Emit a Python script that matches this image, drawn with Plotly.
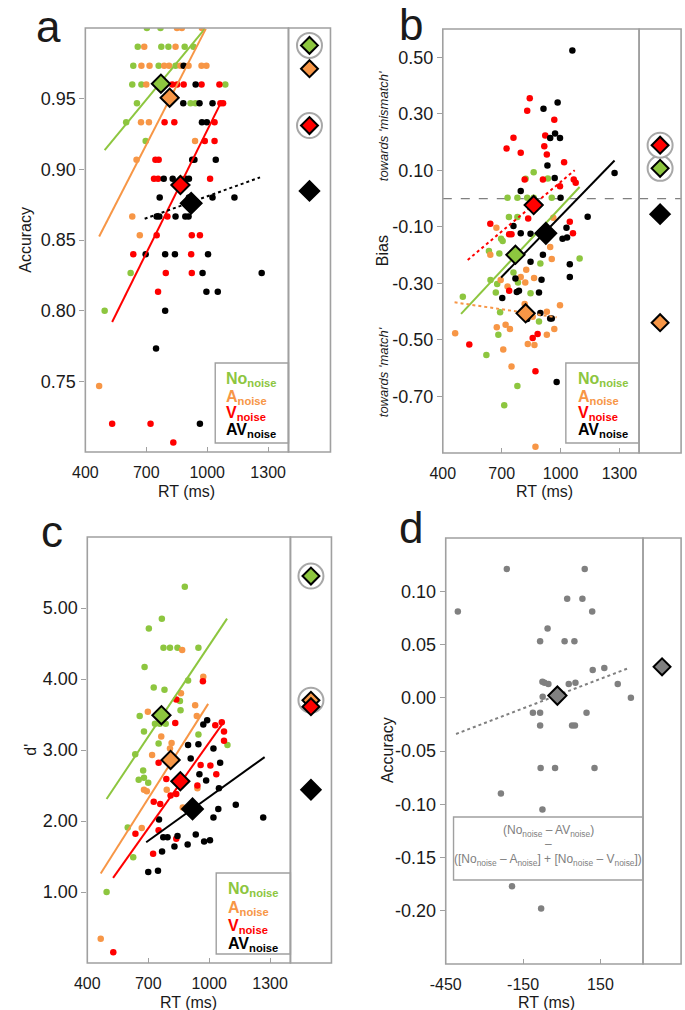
import plotly.graph_objects as go

# ------------------------------------------------------------------ data
cond_names = ["No", "A", "V", "AV"]
cond_colors = ["#8DC63F", "#F79646", "#FF0000", "#000000"]

# ---- panel a : accuracy vs RT
a_no_rt = [703, 770, 658, 774, 809, 889, 932, 636, 761, 844, 631, 676, 1089, 654, 918, 942, 601, 697, 623, 495]
a_no_acc = [1.0, 1.0, 0.9867, 0.9867, 0.9867, 0.9867, 0.9867, 0.9733, 0.9733, 0.9733, 0.96, 0.96, 0.96,
            0.9467, 0.9467, 0.9467, 0.9333, 0.92, 0.8267, 0.80]
a_a_rt = [851, 875, 974, 690, 844, 676, 716, 788, 812, 868, 908, 972, 996, 700, 674, 713, 940, 652, 870, 631, 668, 468]
a_a_acc = [1.0, 1.0, 1.0, 0.9867, 0.9867, 0.9733, 0.9733, 0.9733, 0.9733, 0.9733, 0.9733, 0.9733, 0.9733,
           0.96, 0.9333, 0.9333, 0.92, 0.9067, 0.8933, 0.8667, 0.8533, 0.7467]
a_v_rt = [828, 852, 884, 972, 1060, 1065, 1078, 790, 838, 1036, 988, 1036, 745, 761, 738, 758, 1014, 804,
          751, 924, 964, 636, 921, 796, 924, 758, 532, 721, 833]
a_v_acc = [0.96, 0.96, 0.96, 0.96, 0.96, 0.9467, 0.9467, 0.9333, 0.9333, 0.9333, 0.92, 0.92, 0.9067, 0.9067,
           0.8933, 0.8933, 0.8933, 0.8667, 0.8533, 0.8533, 0.8533, 0.84, 0.84, 0.8267, 0.8267, 0.8133,
           0.72, 0.72, 0.7067]
a_av_rt = [884, 943, 882, 962, 1026, 974, 998, 926, 937, 1042, 786, 830, 894, 910, 766, 1026, 1134, 910,
           751, 764, 844, 892, 908, 697, 793, 841, 1004, 977, 1268, 996, 1052, 793, 748, 964]
a_av_acc = [0.9733, 0.96, 0.9467, 0.9467, 0.9467, 0.9333, 0.9333, 0.9067, 0.9067, 0.9067, 0.8933, 0.8933,
            0.8933, 0.8933, 0.88, 0.88, 0.88, 0.88, 0.8667, 0.8667, 0.8667, 0.8667, 0.8667, 0.84, 0.84,
            0.84, 0.84, 0.8267, 0.8267, 0.8133, 0.8133, 0.80, 0.7733, 0.72]
a_fit_rt = [[495, 988], [468, 993], [532, 1065], [692, 1260]]
a_fit_acc = [[0.9136, 0.9994], [0.8525, 0.9994], [0.792, 0.9465], [0.865, 0.8943]]
a_mean_rt = [772, 815, 868, 921]
a_mean_acc = [0.9606, 0.9507, 0.8889, 0.876]
a_grand_acc = [0.9877, 0.9712, 0.931, 0.8847]
a_yticks = [0.75, 0.80, 0.85, 0.90, 0.95]

# ---- panel b : bias vs RT
b_no_rt = [863, 822, 730, 780, 830, 863, 955, 935, 737, 780, 697, 705, 635, 688, 643, 677, 760, 783, 897,
           1097, 502, 670, 692, 847, 890, 683, 622, 780, 713]
b_no_bias = [0.093, 0.070, 0.003, 0.003, 0.003, 0.003, 0.003, 0.071, -0.065, -0.065, -0.142, -0.150, -0.185,
             -0.194, -0.288, -0.302, -0.261, -0.297, -0.230, -0.212, -0.347, -0.332, -0.402, -0.335, -0.435,
             -0.482, -0.553, -0.663, -0.731]
b_a_rt = [963, 673, 642, 947, 955, 797, 825, 865, 820, 730, 695, 817, 997, 858, 930, 675, 720, 742, 463, 930,
          968, 833, 867, 708, 750, 872]
b_a_bias = [-0.068, -0.103, -0.199, -0.171, -0.214, -0.277, -0.252, -0.281, -0.297, -0.311, -0.288, -0.373,
            -0.377, -0.418, -0.400, -0.455, -0.446, -0.461, -0.476, -0.482, -0.461, -0.514, -0.518, -0.534,
            -0.594, -0.878]
b_v_rt = [843, 830, 760, 725, 797, 968, 922, 917, 930, 1018, 817, 910, 997, 1067, 1077, 642, 738, 750, 835,
          1047, 1063, 738, 858, 883, 535, 872]
b_v_bias = [0.355, 0.311, 0.215, 0.177, 0.162, 0.279, 0.223, 0.185, 0.156, 0.129, 0.068, 0.068, 0.044, 0.068,
            0.056, -0.089, -0.126, -0.126, -0.070, -0.082, -0.123, -0.326, -0.493, -0.479, -0.516, -0.611]
b_av_rt = [1060, 913, 985, 947, 972, 997, 933, 970, 1275, 797, 1000, 760, 797, 847, 922, 1138, 1030, 1010,
           1033, 847, 910, 770, 903, 1047, 1047, 703, 777, 788, 890, 897, 830, 947, 955, 980]
b_av_bias = [0.524, 0.318, 0.340, 0.214, 0.230, 0.214, 0.117, 0.073, 0.091, 0.027, 0.003, -0.097, -0.123,
             -0.124, -0.120, -0.064, -0.103, -0.142, -0.138, -0.223, -0.199, -0.283, -0.287, -0.232, -0.277,
             -0.352, -0.330, -0.326, -0.332, -0.405, -0.426, -0.424, -0.424, -0.649]
b_fit_rt = [[493, 1097], [460, 980], [527, 1072], [697, 1275]]
b_fit_bias = [[-0.408, 0.041], [-0.367, -0.420], [-0.217, 0.1005], [-0.279, 0.135]]
b_mean_rt = [770, 822, 863, 925]
b_mean_bias = [-0.199, -0.406, -0.023, -0.123]
b_grand_bias = [0.107, -0.439, 0.189, -0.055]
b_yticks = [-0.70, -0.50, -0.30, -0.10, 0.10, 0.30, 0.50]

# ---- panel c : d' vs RT
c_no_rt = [880, 767, 703, 775, 807, 844, 947, 682, 896, 727, 780, 658, 856, 859, 679, 733, 757, 786, 751, 636,
           947, 1090, 675, 653, 679, 700, 599, 626, 495]
c_no_d = [5.30, 4.85, 4.71, 4.44, 4.44, 4.44, 4.44, 4.17, 3.98, 3.88, 3.85, 3.48, 3.69, 3.56, 3.26, 3.37, 3.37,
          3.37, 3.09, 2.94, 3.22, 3.07, 2.71, 2.58, 2.61, 2.54, 1.91, 1.49, 1.00]
c_a_rt = [867, 971, 698, 861, 931, 939, 764, 815, 807, 719, 679, 693, 791, 942, 870, 668, 466]
c_a_d = [4.41, 4.03, 3.54, 3.80, 3.63, 3.48, 3.19, 3.10, 3.02, 2.93, 2.44, 2.42, 2.44, 2.46, 2.19, 1.90, 0.34]
c_v_rt = [969, 838, 833, 1030, 1062, 1073, 1073, 751, 789, 958, 1006, 1035, 727, 759, 810, 838, 637, 751, 838,
          724, 528, 942]
c_v_d = [3.97, 3.71, 3.38, 3.35, 3.39, 3.26, 3.13, 2.82, 2.59, 2.79, 2.78, 2.66, 2.27, 2.24, 2.36, 2.38, 1.82,
         1.87, 1.75, 1.54, 0.15, 2.50]
c_av_rt = [990, 971, 896, 947, 1021, 909, 952, 985, 1054, 1048, 1131, 1045, 1021, 1266, 753, 774, 795, 844, 894,
           934, 975, 1004, 829, 768, 700, 748]
c_av_d = [3.42, 3.36, 3.07, 3.08, 3.02, 2.88, 2.66, 2.57, 2.82, 2.46, 2.23, 2.17, 2.05, 2.05, 2.02, 1.77, 1.77,
          1.79, 1.67, 1.81, 1.71, 1.73, 1.64, 1.57, 1.28, 1.30]
c_fit_rt = [[495, 1088], [466, 995], [527, 1073], [690, 1273]]
c_fit_d = [[2.31, 4.85], [1.26, 3.65], [1.20, 3.40], [1.70, 2.90]]
c_mean_rt = [765, 810, 858, 918]
c_mean_d = [3.49, 2.86, 2.56, 2.17]
c_grand_d = [5.45, 3.70, 3.61, 2.44]
c_yticks = [1.0, 2.0, 3.0, 4.0, 5.0]

# ---- panel d : interaction (accuracy difference vs RT difference)
d_rt = [-213, 89, -403, 21, 80, 118, -55, -84, 11, 49, 120, 165, 217, -75, -67, -52, 27, 53, -74, 268,
        -112, -84, 96, -84, 40, 51, -82, -26, 127, -236, -75, -193, -80]
d_acc = [0.121, 0.121, 0.081, 0.093, 0.093, 0.081, 0.065, 0.053, 0.053, 0.053, 0.026, 0.028, 0.013, 0.015,
         0.014, 0.013, 0.013, 0.014, 0.001, 0.000, -0.014, -0.014, -0.014, -0.026, -0.026, -0.026, -0.066,
         -0.066, -0.066, -0.090, -0.105, -0.177, -0.198]
d_fit_rt = [-410, 261]
d_fit_acc = [-0.034, 0.028]
d_mean_rt = [-17]
d_mean_acc = [0.002]
d_grand_acc = [0.029]
d_yticks = [-0.20, -0.15, -0.10, -0.05, 0.0, 0.05, 0.10]

rt_ticks = [400, 700, 1000, 1300]
d_rt_ticks = [-450, -150, 150]

# ------------------------------------------------------------------ drawing
W, H = 685, 1010
FONT = "Liberation Sans, Arial, sans-serif"
FRAME = "#A0A0A0"
GREY = "#808080"


def PX(p):
    return p / W


def PY(p):
    return 1 - p / H


def sfx(n):
    return "" if n == 1 else str(n)


fig = go.Figure()


def add_panel(i, pts, fit_x, fit_y, dashes, mean_x, mean_y, grand_y, rings, colors):
    xm, xs, yy = "x" + sfx(2 * i + 1), "x" + sfx(2 * i + 2), "y" + sfx(i + 1)
    for (xv, yv), c in zip(pts, colors):
        fig.add_trace(go.Scatter(x=xv, y=yv, mode="markers", marker=dict(size=6.5, color=c),
                                 xaxis=xm, yaxis=yy, hoverinfo="skip"))
    for fx, fy, dsh, c in zip(fit_x, fit_y, dashes, colors):
        fig.add_trace(go.Scatter(x=fx, y=fy, mode="lines", line=dict(color=c, width=2, dash=dsh),
                                 xaxis=xm, yaxis=yy, hoverinfo="skip"))
    for k, c in enumerate(colors):
        black = (c == "#000000")
        fig.add_trace(go.Scatter(x=[mean_x[k]], y=[mean_y[k]], mode="markers",
                                 marker=dict(symbol="diamond", size=16 if black else 14, color=c,
                                             line=dict(color="black", width=2)),
                                 xaxis=xm, yaxis=yy, hoverinfo="skip"))
    for k, c in enumerate(colors):
        if rings[k]:
            fig.add_trace(go.Scatter(x=[0.5], y=[grand_y[k]], mode="markers",
                                     marker=dict(symbol="circle", size=25, color="white",
                                                 line=dict(color="#A8A8A8", width=2)),
                                     xaxis=xs, yaxis=yy, hoverinfo="skip"))
    for k, c in enumerate(colors):
        black = (c == "#000000")
        fig.add_trace(go.Scatter(x=[0.5], y=[grand_y[k]], mode="markers",
                                 marker=dict(symbol="diamond", size=15 if black else 13, color=c,
                                             line=dict(color="black", width=2)),
                                 xaxis=xs, yaxis=yy, hoverinfo="skip"))


add_panel(0, [(a_no_rt, a_no_acc), (a_a_rt, a_a_acc), (a_v_rt, a_v_acc), (a_av_rt, a_av_acc)],
          a_fit_rt, a_fit_acc, ["solid", "solid", "solid", "dot"], a_mean_rt, a_mean_acc, a_grand_acc,
          [True, False, True, False], cond_colors)
add_panel(1, [(b_no_rt, b_no_bias), (b_a_rt, b_a_bias), (b_v_rt, b_v_bias), (b_av_rt, b_av_bias)],
          b_fit_rt, b_fit_bias, ["solid", "dot", "dot", "solid"], b_mean_rt, b_mean_bias, b_grand_bias,
          [True, False, True, False], cond_colors)
add_panel(2, [(c_no_rt, c_no_d), (c_a_rt, c_a_d), (c_v_rt, c_v_d), (c_av_rt, c_av_d)],
          c_fit_rt, c_fit_d, ["solid"] * 4, c_mean_rt, c_mean_d, c_grand_d,
          [True, True, False, False], cond_colors)
add_panel(3, [(d_rt, d_acc)], [d_fit_rt], [d_fit_acc], ["dot"], d_mean_rt, d_mean_acc, d_grand_acc,
          [False], [GREY])

# panel geometry (pixels): main x, side x, y
geom = [
    ((71, 279), (279, 322), (28, 452)),
    ((437, 638), (638, 681), (29, 453)),
    ((73, 281), (281, 323), (537, 963)),
    ((440, 642), (642, 681), (538, 964)),
]
yranges = [[0.70, 1.00], [-0.90, 0.60], [0.0, 6.0], [-0.25, 0.15]]
xranges = [[400, 1400], [400, 1400], [400, 1400], [-450, 315]]
yticks = [a_yticks, b_yticks, c_yticks, d_yticks]
xticks = [rt_ticks, rt_ticks, rt_ticks, d_rt_ticks]

layout = dict(width=W, height=H, margin=dict(l=0, r=0, t=0, b=0), paper_bgcolor="white",
              plot_bgcolor="white", showlegend=False, font=dict(family=FONT, color="#1a1a1a"))
shapes = []
for i, ((mx0, mx1), (sx0, sx1), (y0, y1)) in enumerate(geom):
    xm, xs, yy = "xaxis" + sfx(2 * i + 1), "xaxis" + sfx(2 * i + 2), "yaxis" + sfx(i + 1)
    ya = "y" + sfx(i + 1)
    layout[xm] = dict(domain=[PX(mx0), PX(mx1)], anchor=ya, range=xranges[i], tickvals=xticks[i],
                      ticktext=[str(v) for v in xticks[i]], ticks="inside", ticklen=5, tickcolor=FRAME,
                      ticklabelstandoff=9, showgrid=False, zeroline=False, showline=False,
                      tickfont=dict(size=16, family=FONT, color="#1a1a1a"))
    layout[xs] = dict(domain=[PX(sx0), PX(sx1)], anchor=ya, range=[0, 1], showticklabels=False,
                      ticks="", showgrid=False, zeroline=False, showline=False)
    layout[yy] = dict(domain=[PY(y1), PY(y0)], anchor="x" + sfx(2 * i + 1), range=yranges[i],
                      tickvals=yticks[i], ticktext=[f"{v:.2f}" for v in yticks[i]], ticks="outside",
                      ticklen=5, tickcolor=FRAME, showgrid=False, zeroline=False, showline=False,
                      tickfont=dict(size=18, family=FONT, color="#1a1a1a"))
    for xr in ("x" + sfx(2 * i + 1), "x" + sfx(2 * i + 2)):
        shapes.append(dict(type="rect", xref=xr + " domain", yref=ya + " domain", x0=0, x1=1, y0=0, y1=1,
                           line=dict(color=FRAME, width=1.6), layer="above"))

# zero reference line in panel b (main and side)
for xr in ("x3", "x4"):
    shapes.append(dict(type="line", xref=xr + " domain", yref="y2", x0=0, x1=1, y0=0, y1=0,
                       line=dict(color=GREY, width=1.3, dash="dash"), layer="below"))

# legend boxes
legend_boxes = [(204, 279, 363, 443), (563, 638, 363, 443), (205, 281, 873, 954)]
for (x0, x1, y0, y1) in legend_boxes:
    shapes.append(dict(type="rect", xref="paper", yref="paper", x0=PX(x0), x1=PX(x1), y0=PY(y1), y1=PY(y0),
                       line=dict(color=FRAME, width=1.4)))
shapes.append(dict(type="rect", xref="paper", yref="paper", x0=PX(448), x1=PX(642), y0=PY(880), y1=PY(817),
                   line=dict(color=FRAME, width=1.4)))
layout["shapes"] = shapes

ann = []


def add_text(x, y, text, size, color="#1a1a1a", angle=0, xanchor="center", yanchor="middle"):
    ann.append(dict(x=PX(x), y=PY(y), xref="paper", yref="paper", text=text, showarrow=False,
                    font=dict(size=size, color=color, family=FONT), textangle=angle,
                    xanchor=xanchor, yanchor=yanchor))


# panel letters
add_text(33, 26, "a", 44)
add_text(404, 24, "b", 44)
add_text(37, 531, "c", 44)
add_text(404, 527, "d", 44)

# axis titles
add_text(175, 491, "RT (ms)", 16)
add_text(541, 491, "RT (ms)", 16)
add_text(177, 1002, "RT (ms)", 16)
add_text(543, 1002, "RT (ms)", 16)
add_text(9, 240, "Accuracy", 16, angle=-90)
add_text(375, 251, "Bias", 16, angle=-90)
add_text(376, 126, "<i>towards 'mismatch'</i>", 13, angle=-90)
add_text(376, 372, "<i>towards 'match'</i>", 13, angle=-90)
add_text(14, 750, "d'", 16, angle=-90)
add_text(380, 750, "Accuracy", 16, angle=-90)

# condition legends
leg_rows = [(213, [379, 397, 414, 431]), (573, [379, 397, 414, 431]), (215, [889, 908, 926, 944])]
for lx, rows in leg_rows:
    for name, col, ry in zip(cond_names, cond_colors, rows):
        add_text(lx, ry, f"<b>{name}<sub>noise</sub></b>", 16, color=col, xanchor="left")

# panel d formula box
add_text(545, 831, "(No<sub>noise</sub> – AV<sub>noise</sub>)", 12, color=GREY)
add_text(545, 844, "–", 12, color=GREY)
add_text(545, 860, "([No<sub>noise</sub> – A<sub>noise</sub>] + [No<sub>noise</sub> – V<sub>noise</sub>])", 12,
         color=GREY)

layout["annotations"] = ann
fig.update_layout(**layout)

fig.write_html("out.html", config={"displayModeBar": False},
               post_script="document.body.style.margin='0';")
